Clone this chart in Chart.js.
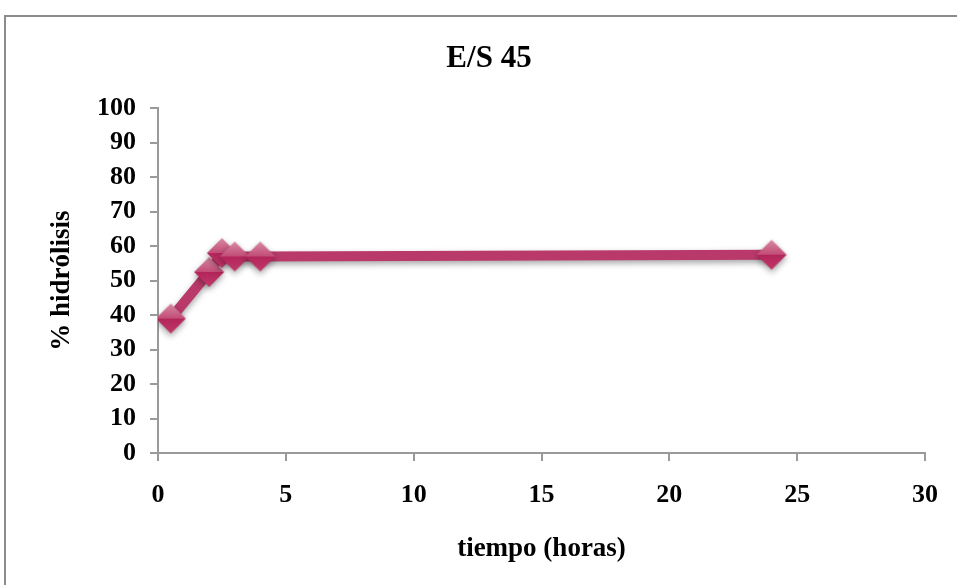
<!DOCTYPE html>
<html>
<head>
<meta charset="utf-8">
<script src="https://cdn.jsdelivr.net/npm/chart.js@4/dist/chart.umd.min.js"></script>
<style>
  html, body { margin: 0; padding: 0; background: #fff; overflow: hidden; }
  #wrap { position: relative; width: 957px; height: 585px; }
  #frame { position: absolute; left: 4px; top: 15px; width: 1000px; height: 700px; border: 2px solid #8c8c8c; }
  canvas { position: absolute; left: 0; top: 0; }
</style>
</head>
<body>
<div id="wrap">
  <div id="frame"></div>
  <canvas id="chart" width="957" height="585"></canvas>
</div>
<script>
const horas = [0.5, 2, 2.5, 3, 4, 24];
const hidrolisis = [39, 52.5, 58, 57, 57, 57.5];
const xTicks = [0, 5, 10, 15, 20, 25, 30];
const yTicks = [0, 10, 20, 30, 40, 50, 60, 70, 80, 90, 100];

const serif = '"Liberation Serif", "Times New Roman", serif';
const axisGray = '#9a9a9a';

// diamond marker: light upper half, darker lower half
function makeDiamond(r) {
  const c = document.createElement('canvas');
  const s = r * 2 + 2;
  c.width = s; c.height = s;
  const g = c.getContext('2d');
  const m = s / 2;
  g.beginPath();
  g.moveTo(m, 1); g.lineTo(s - 1, m); g.lineTo(1, m); g.closePath();
  const top = g.createLinearGradient(0, 1, 0, m);
  top.addColorStop(0, '#d88aa4');
  top.addColorStop(1, '#c24c76');
  g.fillStyle = top; g.fill();
  g.beginPath();
  g.moveTo(1, m); g.lineTo(s - 1, m); g.lineTo(m, s - 1); g.closePath();
  const bot = g.createLinearGradient(0, m, 0, s);
  bot.addColorStop(0, '#b3255a');
  bot.addColorStop(1, '#c23a6a');
  g.fillStyle = bot; g.fill();
  return c;
}

const shadowPlugin = {
  id: 'softShadow',
  beforeDatasetsDraw(chart) {
    const ctx = chart.ctx;
    ctx.save();
    ctx.shadowColor = 'rgba(0,0,0,0.35)';
    ctx.shadowBlur = 6;
    ctx.shadowOffsetY = 3;
  },
  afterDatasetsDraw(chart) {
    chart.ctx.restore();
  }
};

new Chart(document.getElementById('chart'), {
  type: 'line',
  data: {
    datasets: [{
      data: horas.map((h, i) => ({ x: h, y: hidrolisis[i] })),
      borderColor: '#b9396a',
      borderWidth: 10,
      pointStyle: makeDiamond(15),
      pointRadius: 15,
      tension: 0
    }]
  },
  plugins: [shadowPlugin],
  options: {
    responsive: false,
    animation: false,
    layout: { autoPadding: false, padding: { left: 49, right: 28, top: 0, bottom: 0 } },
    plugins: {
      legend: { display: false },
      tooltip: { enabled: false },
      title: {
        display: true,
        text: 'E/S 45',
        color: '#000',
        font: { family: serif, size: 31, weight: 'bold' },
        padding: { top: 40, bottom: 31 }
      }
    },
    scales: {
      x: {
        type: 'linear',
        min: 0, max: 30,
        afterBuildTicks: s => { s.ticks = xTicks.map(v => ({ value: v })); },
        afterFit: s => { s.height = 132; },
        ticks: { color: '#000', font: { family: serif, size: 26, weight: 'bold' }, padding: 19, maxRotation: 0 },
        grid: { drawOnChartArea: false, drawTicks: true, tickLength: 8, color: axisGray, lineWidth: 2 },
        border: { color: axisGray, width: 2 },
        title: {
          display: true,
          text: 'tiempo (horas)',
          color: '#000',
          font: { family: serif, size: 27, weight: 'bold' },
          padding: { top: 0, bottom: 20 }
        }
      },
      y: {
        min: 0, max: 100,
        afterBuildTicks: s => { s.ticks = yTicks.map(v => ({ value: v })); },
        afterFit: s => { s.width = 109; },
        ticks: { color: '#000', font: { family: serif, size: 26, weight: 'bold' }, padding: 14 },
        grid: { drawOnChartArea: false, drawTicks: true, tickLength: 8, color: axisGray, lineWidth: 2 },
        border: { color: axisGray, width: 2 },
        title: {
          display: true,
          text: '% hidrólisis',
          color: '#000',
          font: { family: serif, size: 27, weight: 'bold' },
          padding: { top: -3, bottom: 0 }
        }
      }
    }
  }
});
</script>
</body>
</html>
